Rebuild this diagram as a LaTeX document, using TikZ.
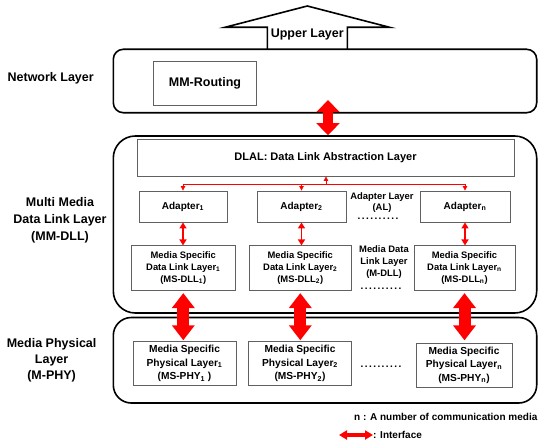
\documentclass[tikz,border=0pt]{standalone}
\usepackage{fontspec}
\setmainfont{Liberation Sans}
\usetikzlibrary{arrows.meta}
% row of evenly spaced dots
\newcommand\dotrow{\makebox[42pt]{\xleaders\hbox to 4.2pt{\hss.\hss}\hfill}}
\begin{document}
\begin{tikzpicture}[x=1pt,y=-1pt,
  layer/.style={draw=black, line width=1.6pt, minimum width=423.4pt, inner sep=0pt},
  box/.style={draw=black!62, line width=0.9pt, inner sep=1pt, align=center,
    font=\bfseries\fontsize{9.4}{11.7}\selectfont},
  phybox/.style={box, font=\bfseries\fontsize{10.2}{13.5}\selectfont},
  adbox/.style={box, minimum height=31pt, font=\bfseries\fontsize{10}{12}\selectfont},
  lbl/.style={align=center, inner sep=0pt, font=\bfseries\fontsize{12.5}{17}\selectfont},
  note/.style={align=center, inner sep=0pt, font=\bfseries\fontsize{9.4}{11.7}\selectfont},
  dots/.style={anchor=base, inner sep=0pt, font=\bfseries\fontsize{10}{12}\selectfont},
  fat/.style={draw=red, line width=12pt,
    {Triangle[width=22pt,length=15pt]}-{Triangle[width=22pt,length=15pt]}},
  slim/.style={draw=red, line width=1.8pt,
    {Triangle[width=7pt,length=6pt]}-{Triangle[width=7pt,length=6pt]}},
  branch/.style={draw=red, line width=0.8pt, -{Triangle[width=4.5pt,length=4.5pt]}}
]
\useasboundingbox (0,0) rectangle (538,444);

% ---- layer frames ----
\node[layer, rounded corners=10pt, minimum height=63.4pt] (net) at (325,81) {};
\node[layer, rounded corners=22pt, minimum height=177pt] (mmdll) at (325,224.5) {};
\node[layer, rounded corners=18pt, minimum height=85.5pt] (mphy) at (325,360.25) {};

% ---- upper layer arrow outline ----
\draw[black, line width=1.6pt, line join=miter]
  (267.3,49.3) -- (267.3,27.3) -- (225,27.3) -- (307.3,6) -- (389.6,27.3)
  -- (347.3,27.3) -- (347.3,49.3);
\node[inner sep=0pt, font=\bfseries\fontsize{12.5}{15}\selectfont] (upper) at (307.3,34.5) {Upper Layer};

% ---- network layer ----
\node[lbl] (netlbl) at (50.7,78.4) {Network Layer};
\node[box, minimum width=103.4pt, minimum height=44pt,
  font=\bfseries\fontsize{12.5}{15}\selectfont] (routing) at (205,83) {MM-Routing};

% ---- multi media data link layer ----
\node[lbl] (dlllbl) at (60,220.5) {Multi Media\\Data Link Layer\\(MM-DLL)};
\node[box, minimum width=377pt, minimum height=37pt,
  font=\bfseries\fontsize{11}{13}\selectfont] (dlal) at (325.5,157.5) {DLAL: Data Link Abstraction Layer};

\node[adbox, minimum width=88pt] (ad1) at (183,206.5) {Adapter\textsubscript{1}};
\node[adbox, minimum width=89pt] (ad2) at (301.5,206.5) {Adapter\textsubscript{2}};
\node[adbox, minimum width=90pt] (adn) at (465,206.5) {Adapter\textsubscript{n}};
\node[note] (allbl) at (382,202.5) {Adapter Layer\\(AL)};
\node[dots] (aldots) at (378,219.5) {\dotrow};

\node[box, minimum width=103.3pt, minimum height=44.3pt] (dll1) at (183.3,268)
  {Media Specific\\Data Link Layer\textsubscript{1}\\(MS-DLL\textsubscript{1})};
\node[box, minimum width=102.7pt, minimum height=44.3pt] (dll2) at (300.3,268)
  {Media Specific\\Data Link Layer\textsubscript{2}\\(MS-DLL\textsubscript{2})};
\node[box, minimum width=101pt, minimum height=44.3pt] (dlln) at (464.5,268)
  {Media Specific\\Data Link Layer\textsubscript{n}\\(MS-DLL\textsubscript{n})};
\node[note] (mdlllbl) at (384,262) {Media Data\\Link Layer\\(M-DLL)};
\node[dots] (mdlldots) at (381,289) {\dotrow};

% ---- media physical layer ----
\node[lbl, font=\bfseries\fontsize{12.5}{16}\selectfont] (phylbl) at (51.6,360) {Media Physical\\Layer\\(M-PHY)};
\node[phybox, minimum width=103pt, minimum height=44pt] (phy1) at (184.5,363.7)
  {Media Specific\\Physical Layer\textsubscript{1}\\(MS-PHY\textsubscript{1} )};
\node[phybox, minimum width=103.7pt, minimum height=44pt] (phy2) at (300,363.7)
  {Media Specific\\Physical Layer\textsubscript{2}\\(MS-PHY\textsubscript{2})};
\node[phybox, minimum width=96pt, minimum height=44pt] (phyn) at (464,365.3)
  {Media Specific\\Physical Layer\textsubscript{n}\\(MS-PHY\textsubscript{n})};
\node[dots] (phydots) at (381,367.5) {\dotrow};

% ---- interfaces ----
\draw[draw=red, line width=10pt,
  {Triangle[width=22.7pt,length=12pt]}-{Triangle[width=22.7pt,length=12pt]}]
  ([xshift=3pt,yshift=13.4pt]net.south) -- ([xshift=3pt]mmdll.north) ;

\coordinate (br) at (326,184);
\draw[branch] (br) -- (dlal.south -| br);
\draw[red, line width=0.8pt] (ad1.north |- br) -- (adn.north |- br);
\draw[branch] (ad1.north |- br) -- (ad1.north);
\draw[branch] (ad2.north |- br) -- (ad2.north);
\draw[branch] (adn.north |- br) -- (adn.north);

\draw[slim] (ad1.south) -- (dll1.north -| ad1.south);
\draw[slim] (ad2.south) -- (dll2.north -| ad2.south);
\draw[slim] (adn.south) -- (dlln.north -| adn.south);

\draw[fat, shorten <=2.5pt, shorten >=1pt] (dll1.south) -- (phy1.north -| dll1.south);
\draw[fat, shorten <=2.5pt, shorten >=1pt] (dll2.south) -- (phy2.north -| dll2.south);
\draw[fat, shorten <=2.5pt, shorten >=2.5pt] (dlln.south) -- (phyn.north -| dlln.south);

% ---- legend ----
\node[anchor=west, inner sep=0pt, font=\bfseries\fontsize{10}{12}\selectfont] (nnote) at (354,417)
  {n : A number of communication media};
\coordinate (lgA) at (339,435);
\node[anchor=west, inner sep=0pt, font=\bfseries\fontsize{10}{12}\selectfont] (iface) at (373,435) {: Interface};
\draw[draw=red, line width=4pt,
  {Triangle[width=9pt,length=8pt]}-{Triangle[width=9pt,length=8pt]}] (lgA) -- (iface.west);
\end{tikzpicture}
\end{document}
